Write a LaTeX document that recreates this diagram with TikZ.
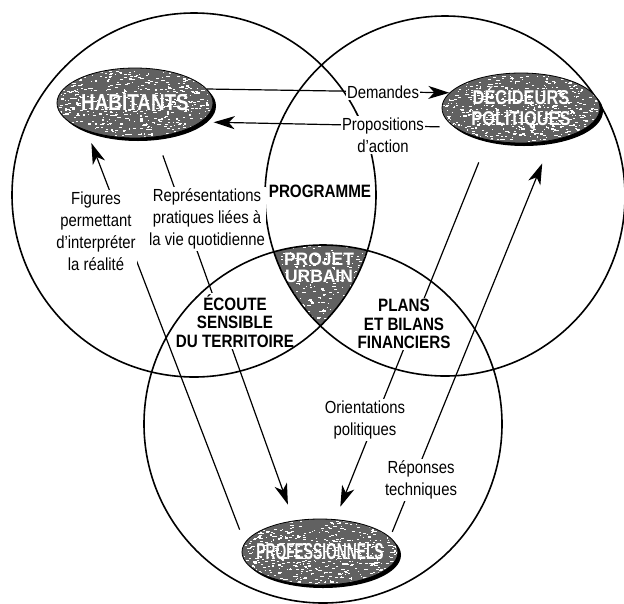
\documentclass[tikz,border=0pt]{standalone}
\usepackage{fontspec}
\setmainfont{Liberation Sans}[FakeStretch=0.85]
\newfontfamily\actorfont{Liberation Sans}
\usepackage{graphicx}
\usetikzlibrary{arrows.meta,shapes.geometric}

\pgfdeclarelayer{links}
\pgfdeclarelayer{veil}
\pgfdeclarelayer{rings}
\pgfsetlayers{links,veil,rings,main}

\newcommand\squeeze[2]{\scalebox{#1}[1]{#2}}
\newcommand\stacked[3]{\vbox{\baselineskip=#1\lineskiplimit=-30pt\lineskip=0pt\halign{\hfil##\hfil\cr#2\cr#3\cr}}}

% light random streaks inside an elliptic patch (grainy screen)
\newcommand\speckle[4]{%
  \begin{scope}
    \clip (#1) ellipse [x radius=#2pt, y radius=#3pt];
    \foreach \k in {1,...,#4}{%
      \pgfmathsetmacro\gx{#2*rand}%
      \pgfmathsetmacro\gy{#3*rand}%
      \pgfmathsetmacro\gw{0.8+2.8*rnd}%
      \fill[white] ([shift={(\gx,\gy)}]#1) rectangle ++(\gw,1.1);
    }
  \end{scope}}

\tikzset{
  ring/.style={line width=1.6pt},
  link/.style={line width=1.2pt},
  tip/.style={-{Stealth[length=21pt,width=13pt,inset=6pt]}},
  actor/.style={ellipse, draw=black, line width=0.8pt, inner sep=0pt, text=white},
  note/.style={font=\fontsize{17.5}{22}\selectfont, align=center, fill=white, inner sep=1.5pt},
  zone/.style={font=\bfseries\fontsize{17.9}{18.5}\selectfont, align=center, inner sep=1pt},
  screen/.style={fill=black!62},
}

\begin{document}
\begin{tikzpicture}[x=1pt,y=-1pt]
\pgfmathsetseed{4242}
\useasboundingbox (0,0) rectangle (624,603);

% ---- the three actors ----
\fill (138,106) ellipse [x radius=78pt, y radius=35pt];
\fill[screen] (135,103) ellipse [x radius=78pt, y radius=35pt];
\speckle{135,103}{77}{34}{600}
\node[actor, minimum width=156pt, minimum height=70pt] (hab) at (135,103)
  {\makebox[0pt]{\actorfont\bfseries\fontsize{23}{23}\selectfont\squeeze{0.82}{HABITANTS}}};

\fill (524,111) ellipse [x radius=79pt, y radius=35pt];
\fill[screen] (521,108) ellipse [x radius=79pt, y radius=35pt];
\speckle{521,108}{78}{34}{600}
\node[actor, minimum width=158pt, minimum height=70pt] (dec) at (521,108)
  {\makebox[0pt]{\actorfont\bfseries\fontsize{20}{21}\selectfont\squeeze{0.82}{\stacked{21pt}{DÉCIDEURS}{POLITIQUES}}}};

\fill (323,555) ellipse [x radius=78pt, y radius=33pt];
\fill[screen] (320,552) ellipse [x radius=78pt, y radius=33pt];
\speckle{320,552}{77}{32}{600}
\node[actor, minimum width=156pt, minimum height=66pt] (prof) at (320,552)
  {\makebox[0pt]{\actorfont\bfseries\fontsize{23}{23}\selectfont\squeeze{0.60}{PROFESSIONNELS}}};

% ---- exchanges between the actors ----
\begin{pgfonlayer}{links}
  \draw[link,tip] (hab.11) -- (dec.168);
  \draw[link,tip,shorten <=14.6pt,shorten >=12.5pt] (dec.196) -- (hab.344);
  \draw[link,tip,shorten <=14pt,shorten >=13pt] (prof.173) -- (hab.210);
  \draw[link,tip,shorten <=19.5pt,shorten >=17pt] (hab.302.5) -- (prof.130);
  \draw[link,tip,shorten <=24pt,shorten >=13.5pt] (dec.224) -- (prof.65);
  \draw[link,tip,shorten <=5.7pt,shorten >=24.5pt] (prof.12) -- (dec.313);
\end{pgfonlayer}

\node[note] (demandes) at (383,92) {Demandes};
\node[note] (propositions) at (383,135) {Propositions\\d’action};
\node[note] (figures) at (96,231) {Figures\\permettant\\d’interpréter\\la réalité};
\node[note] (representations) at (207,219) {Représentations\\pratiques liées à\\la vie quotidienne};
\node[note] (orientations) at (365,420) {Orientations\\politiques};
\node[note] (reponses) at (421,480) {Réponses\\techniques};

% ---- shared zones ----
\begin{pgfonlayer}{veil}
  \begin{scope}
    \clip (194,195) circle [radius=182pt];
    \clip (445,196) circle [radius=180pt];
    \fill[screen] (323,424) circle [radius=179pt];
    \speckle{318,285}{70}{60}{520}
  \end{scope}
  \node[text=white, inner sep=0pt] (projet) at (319,268)
    {\actorfont\bfseries\fontsize{18}{18}\selectfont\squeeze{0.97}{\stacked{17.5pt}{PROJET}{URBAIN}}};
  \node[zone] (programme) at (320,191) {PROGRAMME};
  \node[zone, fill=white] (ecoute) at (235,321) {ÉCOUTE\\SENSIBLE\\DU TERRITOIRE};
  \node[zone, fill=white] (plans) at (404,324) {PLANS\\ET BILANS\\FINANCIERS};
\end{pgfonlayer}

% ---- the three spheres ----
\begin{pgfonlayer}{rings}
  \draw[ring] (194,195) circle [radius=182pt];
  \draw[ring] (445,196) circle [radius=180pt];
  \draw[ring] (323,424) circle [radius=179pt];
\end{pgfonlayer}
\end{tikzpicture}
\end{document}
